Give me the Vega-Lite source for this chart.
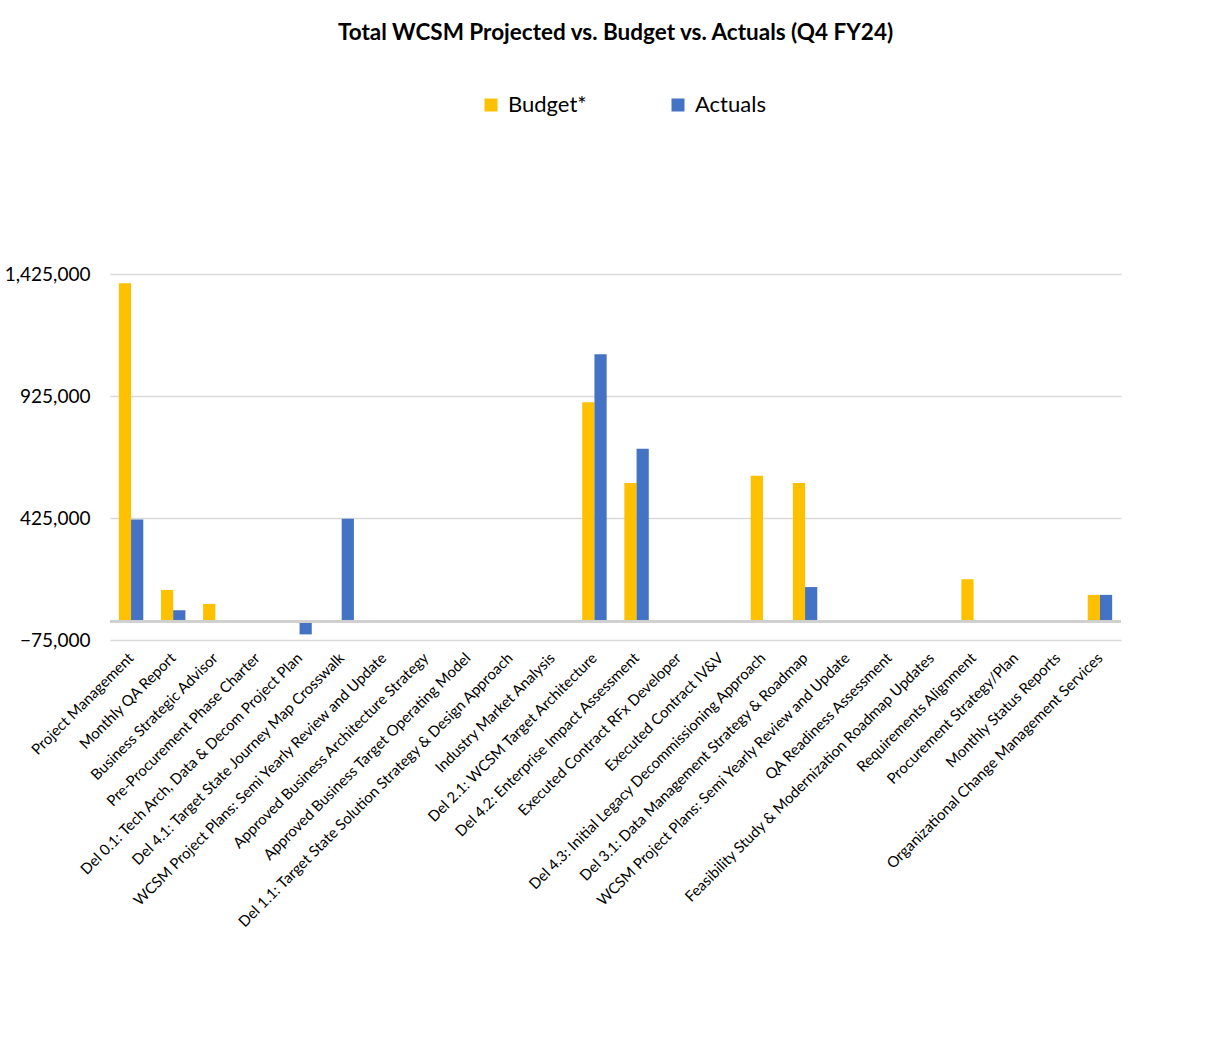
{
  "$schema": "https://vega.github.io/schema/vega-lite/v6.json",
  "width": 1011,
  "height": 366,
  "autosize": {"type": "none"},
  "padding": {"left": 110, "top": 274, "right": 104, "bottom": 407},
  "background": "white",
  "title": {
    "text": "Total WCSM Projected vs. Budget vs. Actuals (Q4 FY24)",
    "font": "Lato",
    "fontSize": 22.5,
    "fontWeight": "bold",
    "color": "#000000",
    "anchor": "middle",
    "offset": 50
  },
  "config": {"view": {"stroke": null}, "font": "Lato"},
  "data": {
    "values": [
      {"item": "Project Management", "series": "Budget*", "value": 1387000},
      {"item": "Project Management", "series": "Actuals", "value": 419000},
      {"item": "Monthly QA Report", "series": "Budget*", "value": 130000},
      {"item": "Monthly QA Report", "series": "Actuals", "value": 47000},
      {"item": "Business Strategic Advisor", "series": "Budget*", "value": 73000},
      {"item": "Business Strategic Advisor", "series": "Actuals", "value": 0},
      {"item": "Pre-Procurement Phase Charter", "series": "Budget*", "value": 0},
      {"item": "Pre-Procurement Phase Charter", "series": "Actuals", "value": 0},
      {"item": "Del 0.1: Tech Arch, Data & Decom Project Plan", "series": "Budget*", "value": 0},
      {"item": "Del 0.1: Tech Arch, Data & Decom Project Plan", "series": "Actuals", "value": -52000},
      {"item": "Del 4.1: Target State Journey Map Crosswalk", "series": "Budget*", "value": 0},
      {"item": "Del 4.1: Target State Journey Map Crosswalk", "series": "Actuals", "value": 422000},
      {"item": "WCSM Project Plans: Semi Yearly Review and Update", "series": "Budget*", "value": 0},
      {"item": "WCSM Project Plans: Semi Yearly Review and Update", "series": "Actuals", "value": 0},
      {"item": "Approved Business Architecture Strategy", "series": "Budget*", "value": 0},
      {"item": "Approved Business Architecture Strategy", "series": "Actuals", "value": 0},
      {"item": "Approved Business Target Operating Model", "series": "Budget*", "value": 0},
      {"item": "Approved Business Target Operating Model", "series": "Actuals", "value": 0},
      {"item": "Del 1.1: Target State Solution Strategy & Design Approach", "series": "Budget*", "value": 0},
      {"item": "Del 1.1: Target State Solution Strategy & Design Approach", "series": "Actuals", "value": 0},
      {"item": "Industry Market Analysis", "series": "Budget*", "value": 0},
      {"item": "Industry Market Analysis", "series": "Actuals", "value": 0},
      {"item": "Del 2.1: WCSM Target Architecture", "series": "Budget*", "value": 899000},
      {"item": "Del 2.1: WCSM Target Architecture", "series": "Actuals", "value": 1096000},
      {"item": "Del 4.2: Enterprise Impact Assessment", "series": "Budget*", "value": 568000},
      {"item": "Del 4.2: Enterprise Impact Assessment", "series": "Actuals", "value": 709000},
      {"item": "Executed Contract RFx Developer", "series": "Budget*", "value": 0},
      {"item": "Executed Contract RFx Developer", "series": "Actuals", "value": 0},
      {"item": "Executed Contract IV&V", "series": "Budget*", "value": 0},
      {"item": "Executed Contract IV&V", "series": "Actuals", "value": 0},
      {"item": "Del 4.3: Initial Legacy Decommissioning Approach", "series": "Budget*", "value": 598000},
      {"item": "Del 4.3: Initial Legacy Decommissioning Approach", "series": "Actuals", "value": 2000},
      {"item": "Del 3.1: Data Management Strategy & Roadmap", "series": "Budget*", "value": 568000},
      {"item": "Del 3.1: Data Management Strategy & Roadmap", "series": "Actuals", "value": 142000},
      {"item": "WCSM Project Plans: Semi Yearly Review and Update ", "series": "Budget*", "value": 0},
      {"item": "WCSM Project Plans: Semi Yearly Review and Update ", "series": "Actuals", "value": 0},
      {"item": "QA Readiness Assessment", "series": "Budget*", "value": 0},
      {"item": "QA Readiness Assessment", "series": "Actuals", "value": 0},
      {"item": "Feasibility Study & Modernization Roadmap Updates", "series": "Budget*", "value": 0},
      {"item": "Feasibility Study & Modernization Roadmap Updates", "series": "Actuals", "value": 0},
      {"item": "Requirements Alignment", "series": "Budget*", "value": 174000},
      {"item": "Requirements Alignment", "series": "Actuals", "value": 0},
      {"item": "Procurement Strategy/Plan", "series": "Budget*", "value": 0},
      {"item": "Procurement Strategy/Plan", "series": "Actuals", "value": 0},
      {"item": "Monthly Status Reports", "series": "Budget*", "value": 0},
      {"item": "Monthly Status Reports", "series": "Actuals", "value": 0},
      {"item": "Organizational Change Management Services", "series": "Budget*", "value": 110000},
      {"item": "Organizational Change Management Services", "series": "Actuals", "value": 110000}
    ]
  },
  "layer": [
    {
      "mark": {"type": "bar"},
      "encoding": {
        "x": {
          "field": "item",
          "type": "nominal",
          "sort": null,
          "scale": {"paddingInner": 0.42, "paddingOuter": 0.21},
          "axis": {
            "title": null,
            "labelAngle": -45,
            "labelAlign": "right",
            "labelBaseline": "middle",
            "labelFont": "Lato",
            "labelFontSize": 15,
            "labelColor": "#000000",
            "labelPadding": 15,
            "labelLimit": 1000,
            "labelOverlap": false,
            "labelExpr": "trim(datum.label)",
            "domain": false,
            "ticks": false,
            "grid": false
          }
        },
        "xOffset": {
          "field": "series",
          "type": "nominal",
          "scale": {"domain": ["Budget*", "Actuals"], "paddingInner": 0, "paddingOuter": 0}
        },
        "y": {
          "field": "value",
          "type": "quantitative",
          "scale": {"domain": [-75000, 1425000], "nice": false, "zero": false},
          "axis": {
            "title": null,
            "values": [-75000, 425000, 925000, 1425000],
            "format": ",.0f",
            "labelFont": "Lato",
            "labelFontSize": 19,
            "labelColor": "#000000",
            "labelPadding": 20,
            "domain": false,
            "ticks": false,
            "gridColor": "#d9d9d9",
            "gridWidth": 1.5
          }
        },
        "color": {
          "field": "series",
          "type": "nominal",
          "scale": {"domain": ["Budget*", "Actuals"], "range": ["#FFC000", "#4472C4"]},
          "legend": {
            "orient": "none",
            "legendX": 370,
            "legendY": -180,
            "direction": "horizontal",
            "title": null,
            "symbolType": "square",
            "symbolSize": 169,
            "symbolStrokeWidth": 0,
            "labelFont": "Lato",
            "labelFontSize": 22,
            "labelColor": "#000000",
            "labelOffset": 6,
            "columnPadding": 80
          }
        }
      }
    },
    {
      "mark": {"type": "rule", "color": "#d0d0d0", "strokeWidth": 2},
      "encoding": {"y": {"datum": 0}}
    }
  ]
}
